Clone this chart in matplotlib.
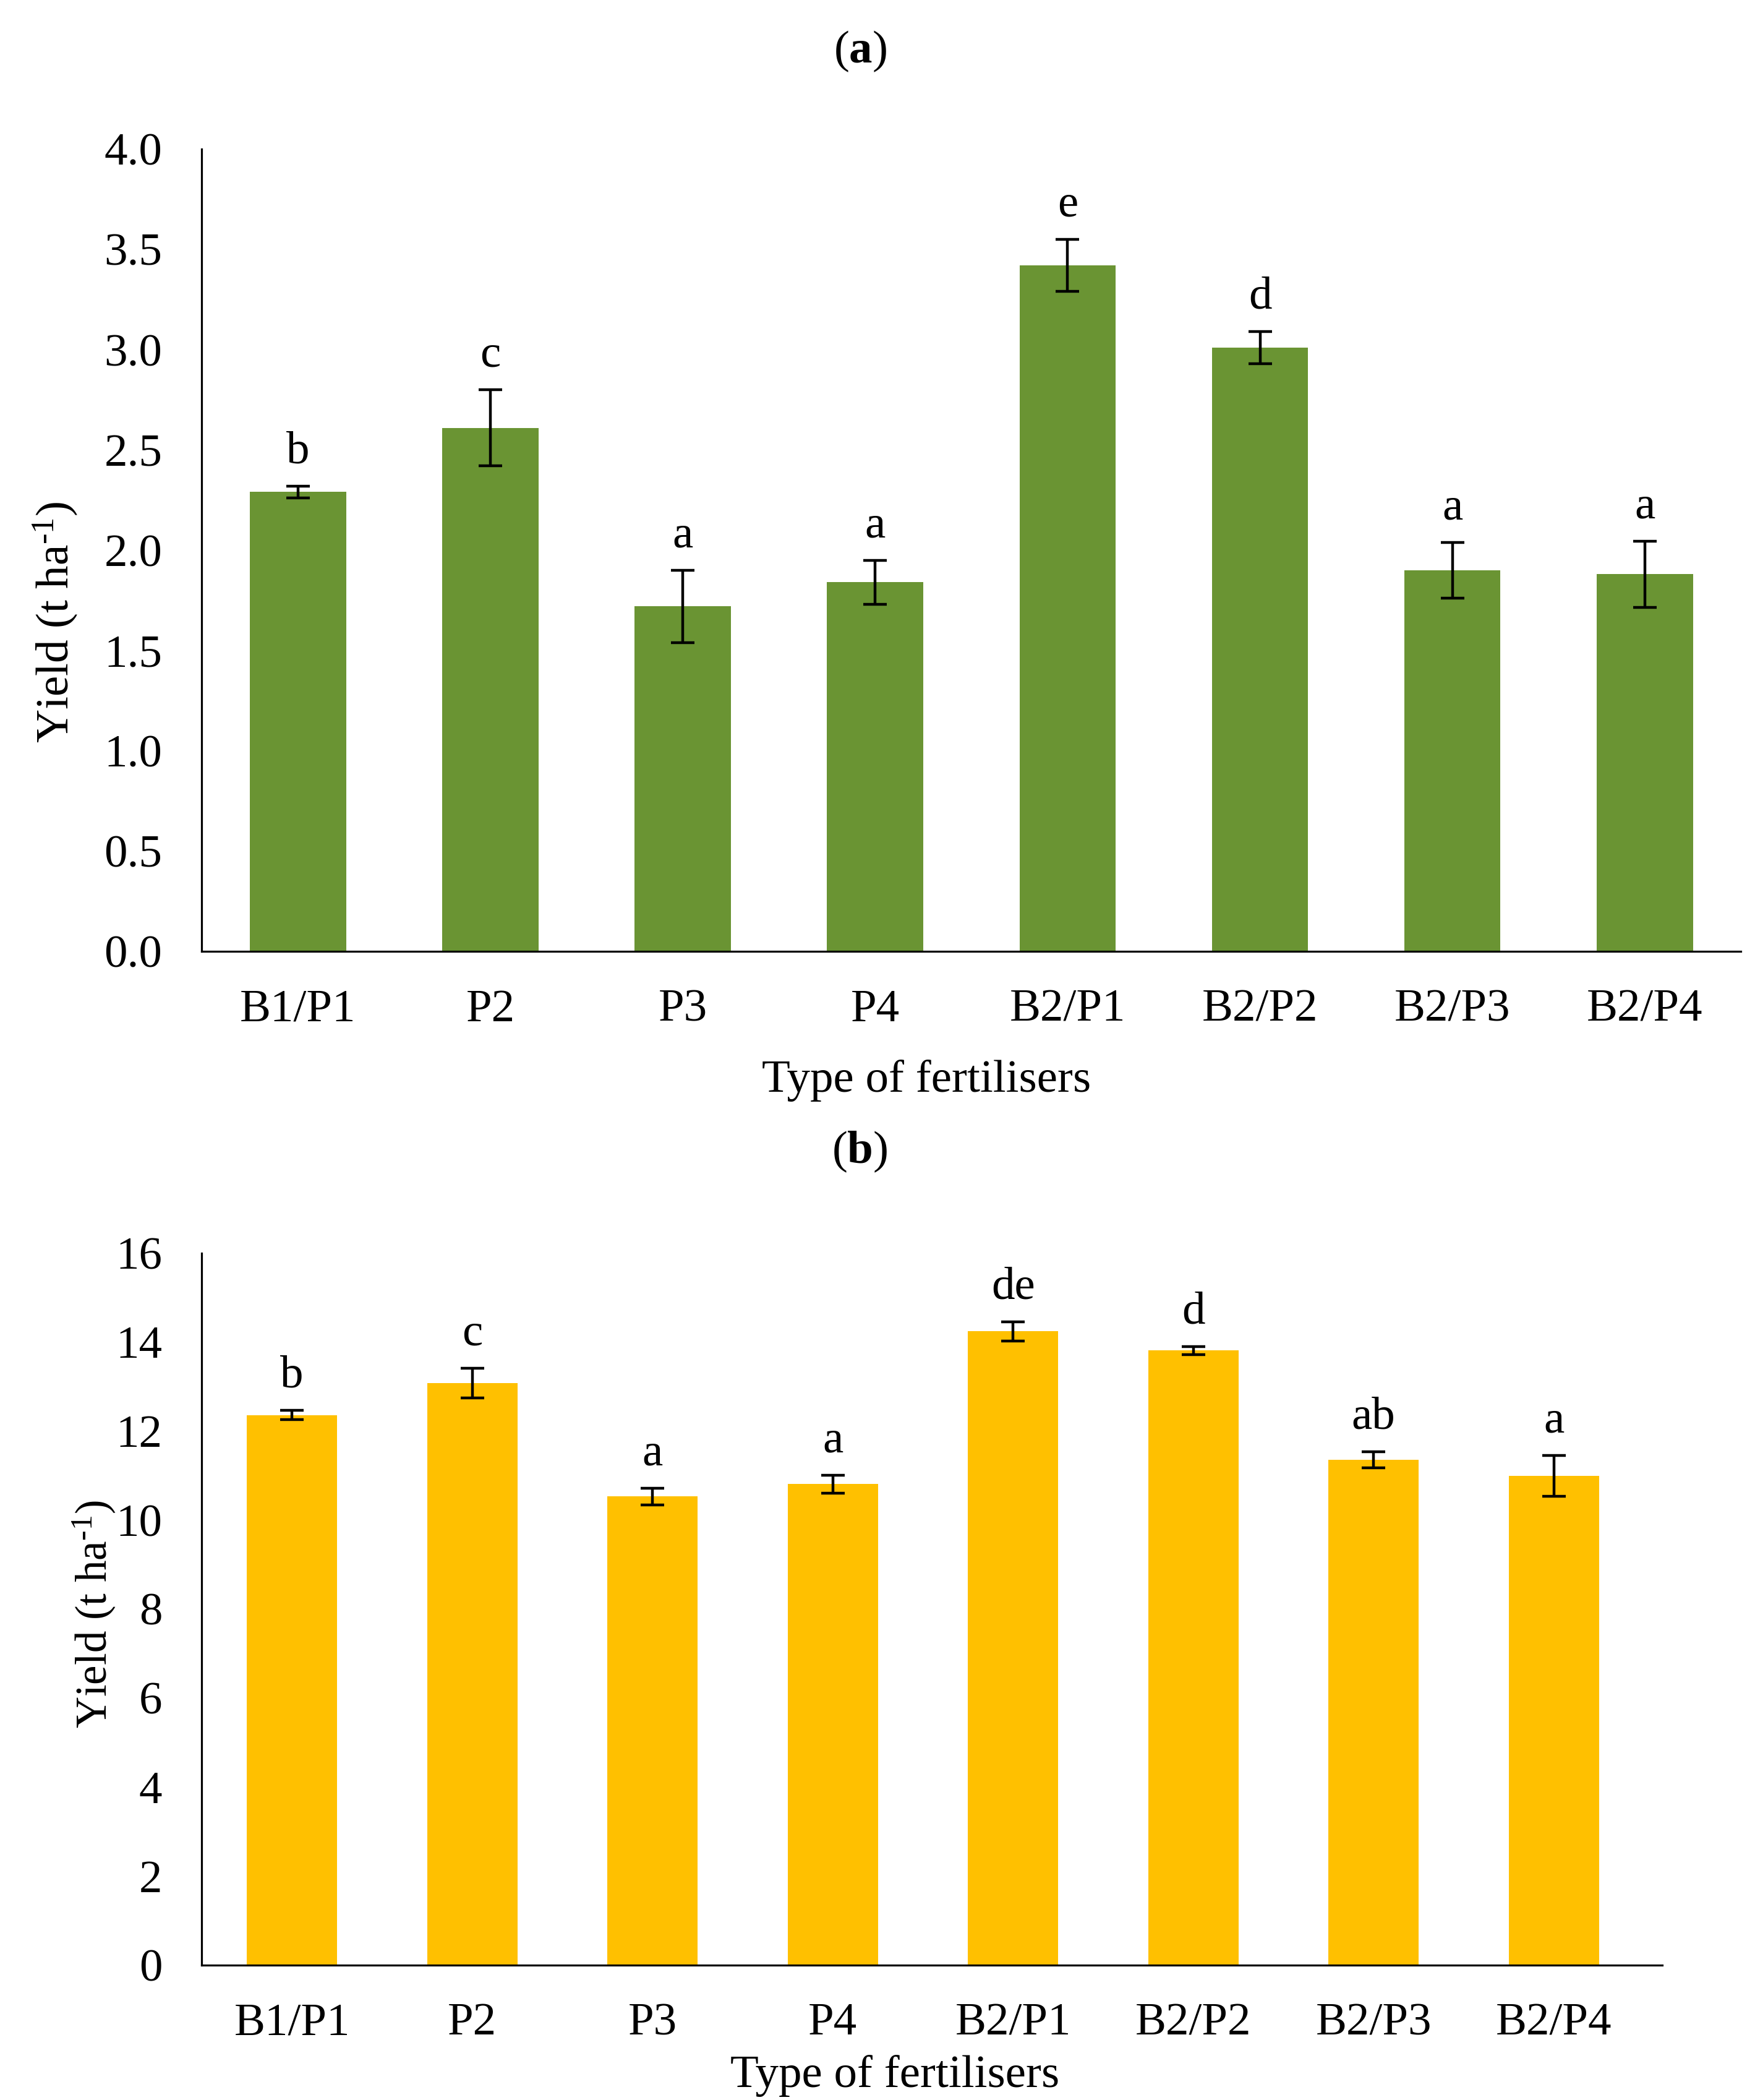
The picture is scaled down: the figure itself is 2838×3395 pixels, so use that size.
import numpy as np
import matplotlib
matplotlib.use("Agg")
import matplotlib.pyplot as plt

# fonts: Times-like serif everywhere, also inside mathtext
plt.rcParams["font.family"] = ["Liberation Serif", "DejaVu Serif"]
plt.rcParams["mathtext.fontset"] = "custom"
plt.rcParams["mathtext.rm"] = "Liberation Serif"
plt.rcParams["mathtext.it"] = "Liberation Serif:italic"
plt.rcParams["mathtext.bf"] = "Liberation Serif:bold"

# data
treatments = ["B1/P1", "P2", "P3", "P4", "B2/P1", "B2/P2", "B2/P3", "B2/P4"]

yield_a = [2.29, 2.61, 1.72, 1.84, 3.42, 3.01, 1.90, 1.88]
err_a = [0.03, 0.19, 0.18, 0.11, 0.13, 0.08, 0.14, 0.165]
letters_a = ["b", "c", "a", "a", "e", "d", "a", "a"]

yield_b = [12.36, 13.08, 10.53, 10.81, 14.24, 13.81, 11.35, 10.99]
err_b = [0.10, 0.33, 0.19, 0.20, 0.22, 0.09, 0.18, 0.46]
letters_b = ["b", "c", "a", "a", "de", "d", "ab", "a"]

green = "#6A9433"
yellow = "#FFC000"
fs = 54
ylab = r"Yield (t ha$^{\text{-1}}$)"


def bar_panel(ax, values, errors, letters, color, ylim, yticks, fmt, xmax):
    """Excel-like bar chart with error bars and letter labels"""
    x = np.arange(len(treatments))
    ax.bar(x, values, width=0.5, color=color, zorder=2)
    ax.errorbar(x, values, yerr=errors, fmt="none", ecolor="black",
                elinewidth=3.2, capsize=14, capthick=3.2, zorder=3)
    for xi, v, e, lab in zip(x, values, errors, letters):
        ax.annotate(lab, (xi, v + e), xytext=(0, 27), textcoords="offset points",
                    ha="center", va="baseline", fontsize=fs)
    ax.set_xlim(-0.5, xmax)
    ax.set_ylim(*ylim)
    ax.set_yticks(yticks)
    ax.set_yticklabels([fmt.format(t) for t in yticks], fontsize=fs)
    ax.set_xticks(x)
    ax.set_xticklabels(treatments, fontsize=fs)
    ax.spines["top"].set_visible(False)
    ax.spines["right"].set_visible(False)
    ax.spines["left"].set_linewidth(2.3)
    ax.spines["bottom"].set_linewidth(2.3)
    ax.tick_params(axis="both", length=0)
    ax.tick_params(axis="y", pad=46)
    ax.tick_params(axis="x", pad=44)


fig = plt.figure(figsize=(28.38, 33.95), dpi=100)

# panel (a)
ax1 = fig.add_axes([0.115, 0.547, 0.877, 0.382])
bar_panel(ax1, yield_a, err_a, letters_a, green, (0, 4.0),
          np.arange(0, 4.01, 0.5), "{:.1f}", 7.5)
ax1.set_ylabel(ylab, fontsize=fs)
ax1.yaxis.set_label_coords(-0.079, 0.41)
fig.text(0.49, 0.9756, r"($\mathbf{a}$)", fontsize=fs, ha="center", va="center")
fig.text(0.528, 0.4855, "Type of fertilisers", fontsize=fs, ha="center", va="center")

# panel (b)
ax2 = fig.add_axes([0.115, 0.0643, 0.832, 0.339])
bar_panel(ax2, yield_b, err_b, letters_b, yellow, (0, 16),
          np.arange(0, 17, 2), "{:d}", 7.6)
ax2.set_ylabel(ylab, fontsize=51)
ax2.yaxis.set_label_coords(-0.058, 0.493)
fig.text(0.49, 0.4514, r"($\mathbf{b}$)", fontsize=fs, ha="center", va="center")
fig.text(0.51, 0.0116, "Type of fertilisers", fontsize=fs, ha="center", va="center")

fig.savefig("out.png", dpi=100, facecolor="white")
